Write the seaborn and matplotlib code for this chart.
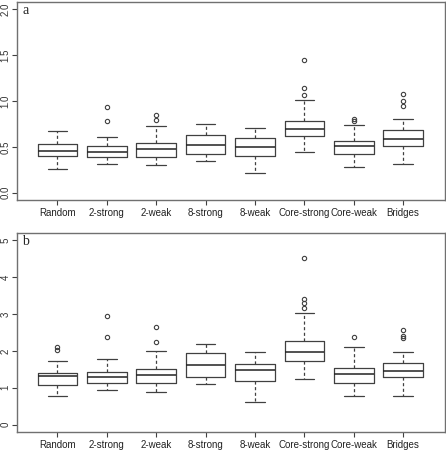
import matplotlib
matplotlib.use("Agg")
import matplotlib.pyplot as plt
from matplotlib import font_manager
import seaborn as sns

groups = ["Random", "2-strong", "2-weak", "8-strong", "8-weak",
          "Core-strong", "Core-weak", "Bridges"]

# panel a: whisker low, q1, median, q3, whisker high, outliers
a_wlo = [0.257, 0.315, 0.307, 0.347, 0.213, 0.445, 0.282, 0.315]
a_q1 = [0.401, 0.387, 0.391, 0.423, 0.401, 0.618, 0.423, 0.506]
a_med = [0.452, 0.445, 0.477, 0.521, 0.503, 0.698, 0.506, 0.590]
a_q3 = [0.528, 0.506, 0.539, 0.629, 0.597, 0.781, 0.564, 0.684]
a_whi = [0.669, 0.604, 0.723, 0.745, 0.705, 1.009, 0.738, 0.803]
a_out = [[], [0.933, 0.778], [0.846, 0.792], [], [],
         [1.450, 1.143, 1.063], [0.803, 0.778], [1.081, 0.998, 0.951]]

# panel b
b_wlo = [0.778, 0.931, 0.886, 1.103, 0.615, 1.239, 0.778, 0.778]
b_q1 = [1.085, 1.130, 1.130, 1.293, 1.184, 1.718, 1.139, 1.284]
b_med = [1.329, 1.284, 1.347, 1.609, 1.483, 1.971, 1.374, 1.456]
b_q3 = [1.410, 1.429, 1.510, 1.944, 1.646, 2.269, 1.528, 1.664]
b_whi = [1.727, 1.781, 1.998, 2.188, 1.980, 3.029, 2.107, 1.980]
b_out = [[2.116, 2.034], [2.948, 2.369], [2.640, 2.233], [], [],
         [4.521, 3.418, 3.291, 3.165], [2.369], [2.559, 2.414, 2.360]]

sns.set_style("white")


def pick_font(name, default):
    # avoid the Narrow variant being matched by family name
    for f in font_manager.fontManager.ttflist:
        if f.name == name and f.style == "normal" and f.weight in (400, "normal") \
                and f.stretch in ("normal", 500) and "Narrow" not in f.fname:
            return font_manager.FontProperties(fname=f.fname)
    return font_manager.FontProperties(family=default)


sans = pick_font("Liberation Sans", "DejaVu Sans")
serif = pick_font("Liberation Serif", "DejaVu Serif")

fig = plt.figure(figsize=(4.46, 4.51), dpi=100)
ax1 = fig.add_axes([0.037, 0.5565, 0.961, 0.439])
ax2 = fig.add_axes([0.037, 0.0421, 0.961, 0.4413])

edge = "#404040"


def draw(ax, wlo, q1, med, q3, whi, out, ylim, yticks, ylabels, tag):
    stats = []
    for i, g in enumerate(groups):
        stats.append(dict(label=g, whislo=wlo[i], q1=q1[i], med=med[i],
                          q3=q3[i], whishi=whi[i], fliers=out[i]))
    ax.bxp(stats, positions=range(1, 9), widths=0.8, capwidths=0.4,
           boxprops=dict(color=edge, linewidth=0.9),
           medianprops=dict(color="#222222", linewidth=1.1),
           whiskerprops=dict(color=edge, linewidth=0.9, linestyle=(0, (2.5, 2))),
           capprops=dict(color=edge, linewidth=0.9),
           flierprops=dict(marker="o", markerfacecolor="none",
                           markeredgecolor=edge, markersize=3.1,
                           markeredgewidth=0.8))
    ax.set_xlim(0.17, 8.85)
    ax.set_ylim(*ylim)
    ax.set_yticks(yticks)
    ax.set_yticklabels(ylabels, rotation=90, va="center", ha="right",
                       fontproperties=sans, fontsize=7, color="#333333")
    ax.set_xticks(range(1, 9))
    ax.set_xticklabels(groups, fontproperties=sans, fontsize=7,
                       color="#222222")
    ax.tick_params(axis="both", which="both", direction="out", length=3.6,
                   width=0.8, color=edge, left=True, bottom=True)
    ax.tick_params(axis="x", pad=2)
    ax.tick_params(axis="y", pad=0.6)
    for s in ax.spines.values():
        s.set_visible(True)
        s.set_color("#707070")
        s.set_linewidth(1.0)
    ax.text(0.014, 0.955, tag, transform=ax.transAxes, fontproperties=serif,
            fontsize=10, va="center", ha="left")


draw(ax1, a_wlo, a_q1, a_med, a_q3, a_whi, a_out, (-0.08, 2.08),
     [0.0, 0.5, 1.0, 1.5, 2.0], ["0.0", "0.5", "1.0", "1.5", "2.0"], "a")
draw(ax2, b_wlo, b_q1, b_med, b_q3, b_whi, b_out, (-0.2, 5.2),
     [0, 1, 2, 3, 4, 5], ["0", "1", "2", "3", "4", "5"], "b")

fig.savefig("out.png", dpi=100)
